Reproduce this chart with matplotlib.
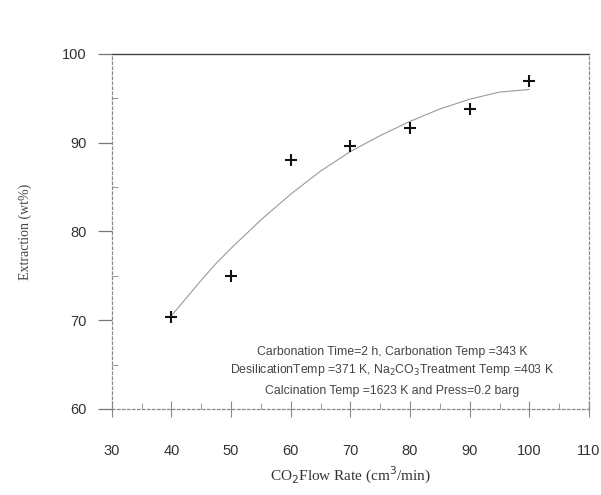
import numpy as np
import matplotlib
matplotlib.use('Agg')
import matplotlib.pyplot as plt
from matplotlib.ticker import MultipleLocator

# measured points
flow_rate = [40, 50, 60, 70, 80, 90, 100]
extraction = [70.4, 75.0, 88.0, 89.6, 91.6, 93.8, 97.0]

# fitted trend line
fit_x = [40, 42.5, 45, 47.5, 50, 55, 60, 65, 70, 75, 80, 85, 90, 95, 100]
fit_y = [70.5, 72.5, 74.5, 76.4, 78.1, 81.3, 84.2, 86.8, 89.0, 90.8, 92.4, 93.8, 94.9, 95.7, 96.0]

x_ticks = [30, 40, 50, 60, 70, 80, 90, 100, 110]
y_ticks = [60, 70, 80, 90, 100]

note_lines = [
    "Carbonation Time=2 h, Carbonation Temp =343 K",
    "DesilicationTemp =371 K, Na$_2$CO$_3$Treatment Temp =403 K",
    "Calcination Temp =1623 K and Press=0.2 barg",
]

fig = plt.figure(figsize=(6.01, 4.95), dpi=100)
ax = fig.add_axes([0.186, 0.174, 0.794, 0.717])

ax.plot(fit_x, fit_y, color='#9a9a9a', lw=0.8)
ax.plot(flow_rate, extraction, linestyle='none', marker='+', ms=8, mew=1.5, color='#111111')

ax.set_xlim(30, 110)
ax.set_ylim(60, 100)
ax.set_xticks(x_ticks)
ax.set_yticks(y_ticks)
ax.xaxis.set_minor_locator(MultipleLocator(5))
ax.yaxis.set_minor_locator(MultipleLocator(5))

tick_font = {'family': 'Liberation Sans', 'size': 10.5, 'color': '#333333'}
ax.set_xticklabels([str(v) for v in x_ticks], fontdict=tick_font)
ax.set_yticklabels([str(v) for v in y_ticks], fontdict=tick_font)
ax.tick_params(axis='x', which='major', direction='inout', length=12, width=0.8,
               color='#888888', pad=19)
ax.tick_params(axis='y', which='major', direction='out', length=10, width=0.9,
               color='#777777', pad=8)
ax.tick_params(which='minor', direction='in', length=4, width=0.7, color='#999999')

for side in ['left', 'right', 'bottom']:
    ax.spines[side].set_linestyle((0, (2, 2)))
    ax.spines[side].set_color('#888888')
    ax.spines[side].set_linewidth(0.9)
ax.spines['top'].set_color('#444444')
ax.spines['top'].set_linewidth(1.0)

ax.set_xlabel("CO$_2$Flow Rate (cm$^3$/min)", family='Liberation Serif', fontsize=11,
              color='#333333', labelpad=5)
ax.set_ylabel("Extraction (wt%)", family='Liberation Serif', fontsize=10,
              color='#444444', labelpad=22)

note_y = [66.4, 64.4, 62.0]
for line, yy in zip(note_lines, note_y):
    ax.text(77.0, yy, line, ha='center', va='center', family='Liberation Sans',
            fontsize=8.8, color='#444444')

fig.savefig('out.png', dpi=100, facecolor='white')
